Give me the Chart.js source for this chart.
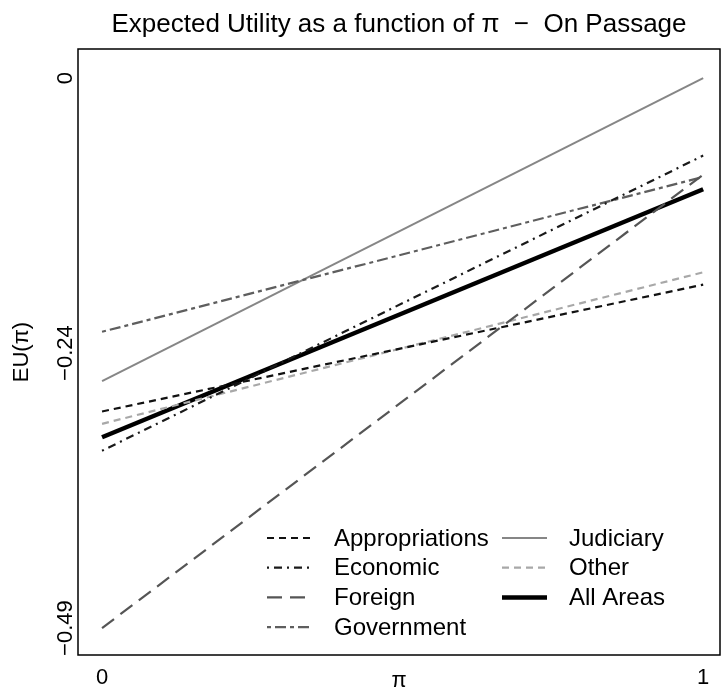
<!doctype html>
<html lang="en">
  <head>
    <meta charset="utf-8">
    <title>Expected Utility as a function of π - On Passage</title>
    <style>
      body { margin: 0; background: #fff; }
    </style>
  </head>
  <body>
    <canvas id="myChart" width="724" height="693"></canvas>

    <script src="https://cdn.jsdelivr.net/npm/chart.js"></script>
    <script>
        // values: EU at pi = 0 and at pi = 1 for each policy area
        const areas = ['Appropriations', 'Economic', 'Foreign', 'Government', 'Judiciary', 'Other', 'All Areas'];
        const piValues = [0, 1];
        const euAtZero = [-0.297, -0.332, -0.490, -0.226, -0.270, -0.308, -0.320];
        const euAtOne = [-0.184, -0.069, -0.086, -0.088, 0.000, -0.173, -0.099];

        const xTickValues = [0, 1];
        const xTickLabels = ['0', '1'];
        const yTickValues = [-0.49, -0.245, 0];
        const yTickLabels = ['\u22120.49', '\u22120.24', '0'];

        const titleText = 'Expected Utility as a function of \u03c0  \u2212  On Passage';
        const xTitle = '\u03c0';
        const yTitle = 'EU(\u03c0)';

        // line looks, one per area
        const colors = ['#111111', '#1a1a1a', '#555555', '#5e5e5e', '#868686', '#a8a8a8', '#000000'];
        const widths = [2.2, 2.2, 2.2, 2.2, 2, 2.2, 4.5];
        const dashes = [[7, 5], [2, 5, 8, 5], [15, 8], [4, 4, 11, 4], [], [7, 5], []];

        const FONT = '"Liberation Sans", Arial, Helvetica, sans-serif';

        const datasets = areas.map((name, i) => ({
            label: name,
            data: [
                { x: piValues[0], y: euAtZero[i] },
                { x: piValues[1], y: euAtOne[i] }
            ],
            borderColor: colors[i],
            backgroundColor: colors[i],
            borderWidth: widths[i],
            borderDash: dashes[i],
            pointRadius: 0,
            fill: false,
            tension: 0
        }));

        const framePlugin = {
            id: 'frame',
            afterDatasetsDraw(chart) {
                const { ctx, chartArea: a } = chart;
                const x = chart.scales.x;
                const y = chart.scales.y;
                ctx.save();

                // box round the plot
                ctx.strokeStyle = '#000';
                ctx.lineWidth = 1.5;
                ctx.setLineDash([]);
                ctx.strokeRect(a.left, a.top, a.right - a.left, a.bottom - a.top);

                ctx.fillStyle = '#000';
                ctx.textAlign = 'center';
                ctx.textBaseline = 'middle';

                // title
                ctx.font = '26px ' + FONT;
                ctx.fillText(titleText, (a.left + a.right) / 2, 25);

                // x ticks and title
                ctx.font = '22px ' + FONT;
                xTickValues.forEach((v, i) => {
                    ctx.fillText(xTickLabels[i], x.getPixelForValue(v), a.bottom + 23);
                });
                ctx.fillText(xTitle, (a.left + a.right) / 2, a.bottom + 26);

                // y ticks (rotated, as R draws them)
                yTickValues.forEach((v, i) => {
                    ctx.save();
                    ctx.translate(a.left - 12, y.getPixelForValue(v));
                    ctx.rotate(-Math.PI / 2);
                    ctx.fillText(yTickLabels[i], 0, 0);
                    ctx.restore();
                });
                ctx.save();
                ctx.translate(22, (a.top + a.bottom) / 2);
                ctx.rotate(-Math.PI / 2);
                ctx.fillText(yTitle, 0, 0);
                ctx.restore();

                // legend, two columns inside the plot
                ctx.font = '24px ' + FONT;
                ctx.textAlign = 'left';
                chart.data.datasets.forEach((ds, i) => {
                    const col = i < 4 ? 0 : 1;
                    const row = i < 4 ? i : i - 4;
                    const lx = a.left + (col === 0 ? 189 : 424);
                    const ly = 538 + row * 29.7;
                    ctx.strokeStyle = ds.borderColor;
                    ctx.lineWidth = ds.borderWidth;
                    ctx.setLineDash(ds.borderDash);
                    ctx.beginPath();
                    ctx.moveTo(lx, ly);
                    ctx.lineTo(lx + 45, ly);
                    ctx.stroke();
                    ctx.fillText(ds.label, lx + 67, ly + 1);
                });

                ctx.restore();
            }
        };

        const config = {
            type: 'line',
            data: { datasets },
            options: {
                responsive: false,
                animation: false,
                layout: {
                    padding: { left: 78, right: 4, top: 49, bottom: 38 }
                },
                plugins: {
                    legend: { display: false },
                    tooltip: { enabled: false },
                    title: { display: false }
                },
                scales: {
                    x: {
                        type: 'linear',
                        min: -0.04,
                        max: 1.028,
                        display: false
                    },
                    y: {
                        type: 'linear',
                        min: -0.514,
                        max: 0.026,
                        display: false
                    }
                }
            },
            plugins: [framePlugin]
        };

        const ctx = document.getElementById('myChart');
        new Chart(ctx, config);
    </script>
  </body>
</html>
